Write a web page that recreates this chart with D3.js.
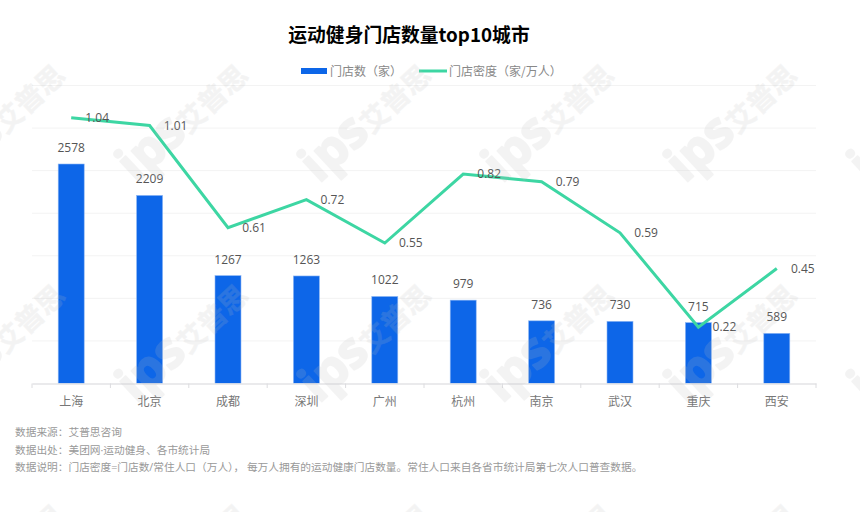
<!DOCTYPE html>
<html>
<head>
<meta charset="utf-8">
<script src="https://cdn.jsdelivr.net/npm/d3@7"></script>
<style>
    html, body { margin: 0; padding: 0; background: #fff; }
    svg { display: block; }
    text { font-family: "Open Sans", "Noto Sans CJK SC", sans-serif; }
</style>
</head>
<body>
<div id="chart"></div>
<script>
const cities = ['上海', '北京', '成都', '深圳', '广州', '杭州', '南京', '武汉', '重庆', '西安'];
const storeCounts = [2578, 2209, 1267, 1263, 1022, 979, 736, 730, 715, 589];
const storeDensity = [1.04, 1.01, 0.61, 0.72, 0.55, 0.82, 0.79, 0.59, 0.22, 0.45];
const legendNames = ['门店数（家）', '门店密度（家/万人）'];
const titleText = '运动健身门店数量top10城市';
const footerLines = [
    '数据来源：艾普思咨询',
    '数据出处：美团网·运动健身、各市统计局',
    '数据说明：门店密度=门店数/常住人口（万人）， 每万人拥有的运动健康门店数量。常住人口来自各省市统计局第七次人口普查数据。'
];

const width = 860, height = 512;
const barColor = '#0d66e8', lineColor = '#3dd6a3';

const svg = d3.select('#chart').append('svg')
    .attr('width', width)
    .attr('height', height);

const x = d3.scaleBand().domain(cities).range([32, 816]);
const yCount = d3.scaleLinear().domain([0, 3500]).range([383.5, 85.5]);
const yDensity = d3.scaleLinear().domain([0, 7 / 6]).range([383.5, 85.5]);
const center = d => x(d) + x.bandwidth() / 2;

// Grid
svg.append('g').selectAll('line')
    .data(d3.range(500, 3501, 500))
    .join('line')
    .attr('x1', 32).attr('x2', 816)
    .attr('y1', d => yCount(d)).attr('y2', d => yCount(d))
    .attr('stroke', '#f3f3f3');

// Bars
svg.append('g').selectAll('rect')
    .data(cities)
    .join('rect')
    .attr('x', d => center(d) - 13)
    .attr('width', 26)
    .attr('y', (d, i) => yCount(storeCounts[i]))
    .attr('height', (d, i) => yCount(0) - yCount(storeCounts[i]))
    .attr('fill', barColor)
    .attr('stroke', '#8db6f3')
    .attr('stroke-width', 0.6);

// Category axis
const xAxis = svg.append('g')
    .attr('transform', 'translate(0,383.5)')
    .call(d3.axisBottom(x).tickSize(0).tickPadding(14));
xAxis.select('.domain').attr('stroke', '#e3e3e6').attr('stroke-width', 1.5);
xAxis.selectAll('text')
    .attr('font-size', 12)
    .attr('fill', '#777')
    .style('font-family', '"Noto Sans CJK SC", sans-serif');
svg.append('g').selectAll('line')
    .data(cities.concat(null))
    .join('line')
    .attr('x1', d => d ? x(d) : 816).attr('x2', d => d ? x(d) : 816)
    .attr('y1', 383.5).attr('y2', 388)
    .attr('stroke', '#dcdcdf');

// Density line
const densityLine = d3.line()
    .x((d, i) => center(cities[i]))
    .y(d => yDensity(d));
svg.append('path')
    .datum(storeDensity)
    .attr('d', densityLine)
    .attr('fill', 'none')
    .attr('stroke', lineColor)
    .attr('stroke-width', 3);

// Value labels
svg.append('g').selectAll('text')
    .data(cities)
    .join('text')
    .attr('x', d => center(d))
    .attr('y', (d, i) => yCount(storeCounts[i]) - 12)
    .attr('text-anchor', 'middle')
    .attr('font-size', 12)
    .attr('fill', '#555')
    .text((d, i) => storeCounts[i]);
svg.append('g').selectAll('text')
    .data(cities)
    .join('text')
    .attr('x', d => center(d) + 26)
    .attr('y', (d, i) => yDensity(storeDensity[i]) + 4)
    .attr('text-anchor', 'middle')
    .attr('font-size', 12)
    .attr('fill', '#555')
    .text((d, i) => storeDensity[i]);

// Title
svg.append('text')
    .attr('x', 409).attr('y', 42)
    .attr('text-anchor', 'middle')
    .attr('font-size', 18.8)
    .attr('font-weight', 'bold')
    .attr('fill', '#000')
    .style('font-family', '"Noto Sans CJK SC", sans-serif')
    .text(titleText);

// Legend
svg.append('rect')
    .attr('x', 301).attr('y', 68).attr('width', 26).attr('height', 6)
    .attr('fill', barColor);
svg.append('line')
    .attr('x1', 419).attr('x2', 447).attr('y1', 71).attr('y2', 71)
    .attr('stroke', lineColor).attr('stroke-width', 3);
svg.selectAll('.legend-label')
    .data(legendNames)
    .join('text')
    .attr('class', 'legend-label')
    .attr('x', (d, i) => i === 0 ? 330 : 449)
    .attr('y', 76)
    .attr('font-size', 12)
    .attr('fill', '#888')
    .style('font-family', '"Noto Sans CJK SC", sans-serif')
    .text(d => d);

// Footer
svg.selectAll('.footer')
    .data(footerLines)
    .join('text')
    .attr('class', 'footer')
    .attr('x', 15)
    .attr('y', (d, i) => [436, 454, 471][i])
    .attr('font-size', 10.7)
    .attr('fill', '#999')
    .text(d => d);

// Watermark sits on top of everything
const marks = [];
for (let row = 0; row < 3; row++) {
    for (let col = 0; col < 6; col++) {
        marks.push([col * 183 - 47, row * 220 + 184]);
    }
}
const mark = svg.append('g').selectAll('g')
    .data(marks)
    .join('g')
    .attr('transform', d => `translate(${d[0]},${d[1]}) rotate(-43)`)
    .attr('fill', 'rgb(190,190,190)')
    .attr('stroke', 'rgb(190,190,190)')
    .attr('opacity', 0.17)
    .style('pointer-events', 'none');
mark.append('text')
    .attr('font-size', 50)
    .attr('font-weight', 'bold')
    .attr('stroke-width', 2)
    .attr('stroke-linejoin', 'round')
    .style('font-family', '"Open Sans", sans-serif')
    .text('ips');
mark.append('text')
    .attr('x', 72)
    .attr('y', 0)
    .attr('font-size', 28)
    .attr('font-weight', 'bold')
    .attr('stroke-width', 0.5)
    .style('font-family', '"Noto Sans CJK SC", sans-serif')
    .text('艾普思');
</script>
</body>
</html>
